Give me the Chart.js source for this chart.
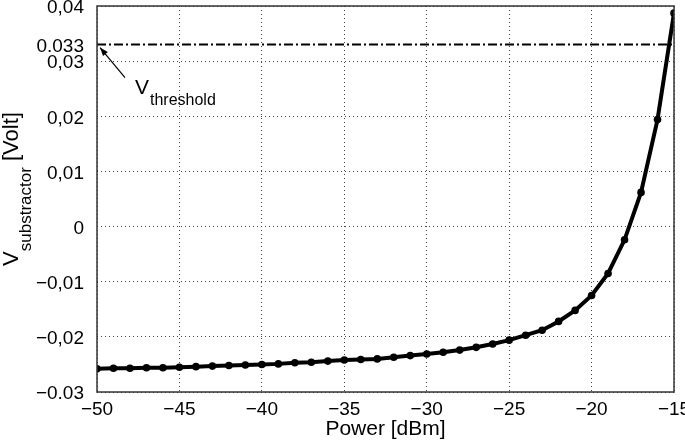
<!DOCTYPE html>
<html>
<head>
<meta charset="utf-8">
<script src="https://cdn.jsdelivr.net/npm/chart.js@4/dist/chart.umd.min.js"></script>
<style>
  html, body { margin: 0; padding: 0; background: #fff; }
</style>
</head>
<body>
<canvas id="chart" width="685" height="442"></canvas>
<script>
// Messwerte: Eingangsleistung [dBm] und Spannung am Subtrahierer [Volt]
const powerDbm = [-50, -49, -48, -47, -46, -45, -44, -43, -42, -41, -40, -39,
  -38, -37, -36, -35, -34, -33, -32, -31, -30, -29, -28, -27, -26, -25, -24,
  -23, -22, -21, -20, -19, -18, -17, -16, -15];
const vSub = [-0.0258, -0.0257, -0.0257, -0.0256, -0.0256, -0.0255, -0.0254,
  -0.0253, -0.0252, -0.0251, -0.0250, -0.0249, -0.0247, -0.0246, -0.0244,
  -0.0242, -0.0241, -0.0240, -0.0237, -0.0234, -0.0231, -0.0228, -0.0224,
  -0.0219, -0.0213, -0.0206, -0.0197, -0.0188, -0.0172, -0.0152, -0.0125,
  -0.0085, -0.0024, 0.0062, 0.0194, 0.0387];
const vThreshold = 0.033;

// Achsenbeschriftungen
const xTicks = [-50, -45, -40, -35, -30, -25, -20, -15];
const yTickValues = [-0.03, -0.02, -0.01, 0, 0.01, 0.02, 0.03, 0.04, 0.033];
const yTickLabels = ['−0.03', '−0,02', '−0,01', '0', '0,01', '0,02', '0,03', '0,04', '0.033'];

const FONT = '"Liberation Sans", Arial, Helvetica, sans-serif';
Chart.defaults.font.family = FONT;
Chart.defaults.color = '#000';

// Rahmen um den Plotbereich
const framePlugin = {
  id: 'frame',
  afterDatasetsDraw(chart) {
    const a = chart.chartArea, ctx = chart.ctx;
    ctx.save();
    ctx.strokeStyle = '#333';
    ctx.lineWidth = 1.5;
    ctx.strokeRect(a.left, a.top, a.right - a.left, a.bottom - a.top);
    ctx.restore();
  }
};

// Y-Achsentitel mit Index und Pfeil-Beschriftung V_threshold
const textPlugin = {
  id: 'texts',
  afterDraw(chart) {
    const ctx = chart.ctx, a = chart.chartArea;
    const xs = chart.scales.x, ys = chart.scales.y;

    // Y-Titel (gedreht)
    ctx.save();
    const big = '22px ' + FONT, small = '17px ' + FONT;
    ctx.font = big;
    const wV = ctx.measureText('V').width;
    const wRest = ctx.measureText(' [Volt]').width;
    ctx.font = small;
    const wSub = ctx.measureText('substractor').width;
    const total = wV + wSub + wRest;
    ctx.translate(18, (a.top + a.bottom) / 2 - 10);
    ctx.rotate(-Math.PI / 2);
    ctx.textBaseline = 'alphabetic';
    ctx.textAlign = 'left';
    let u = -total / 2;
    ctx.font = big;
    ctx.fillText('V', u, 0);
    u += wV;
    ctx.font = small;
    ctx.fillText('substractor', u, 13);
    u += wSub;
    ctx.font = big;
    ctx.fillText(' [Volt]', u, 0);
    ctx.restore();

    // Pfeil auf die Schwellwertlinie
    const tipX = xs.getPixelForValue(-50) + 3;
    const tipY = ys.getPixelForValue(vThreshold) + 3;
    const tailX = tipX + 25, tailY = tipY + 30;
    ctx.save();
    ctx.strokeStyle = '#000';
    ctx.fillStyle = '#000';
    ctx.lineWidth = 1.2;
    ctx.beginPath();
    ctx.moveTo(tailX, tailY);
    ctx.lineTo(tipX, tipY);
    ctx.stroke();
    const ang = Math.atan2(tipY - tailY, tipX - tailX);
    ctx.beginPath();
    ctx.moveTo(tipX, tipY);
    ctx.lineTo(tipX - 9 * Math.cos(ang - 0.35), tipY - 9 * Math.sin(ang - 0.35));
    ctx.lineTo(tipX - 9 * Math.cos(ang + 0.35), tipY - 9 * Math.sin(ang + 0.35));
    ctx.closePath();
    ctx.fill();

    // Beschriftung V_threshold
    ctx.font = '21px ' + FONT;
    ctx.textAlign = 'left';
    ctx.textBaseline = 'alphabetic';
    const lx = tipX + 35, ly = tipY + 46;
    ctx.fillText('V', lx, ly);
    const w = ctx.measureText('V').width;
    ctx.font = '16px ' + FONT;
    ctx.fillText('threshold', lx + w + 1, ly + 11);
    ctx.restore();
  }
};

const ctx = document.getElementById('chart').getContext('2d');

new Chart(ctx, {
  type: 'line',
  data: {
    datasets: [
      {
        label: 'V_substractor',
        data: powerDbm.map((p, i) => ({x: p, y: vSub[i]})),
        borderColor: '#000',
        backgroundColor: '#000',
        borderWidth: 4,
        pointRadius: 3.8,
        pointBackgroundColor: '#000',
        pointBorderWidth: 0,
        tension: 0
      },
      {
        label: 'V_threshold',
        data: [{x: powerDbm[0], y: vThreshold}, {x: powerDbm[powerDbm.length - 1], y: vThreshold}],
        borderColor: '#000',
        borderWidth: 2,
        borderDash: [9, 3, 2, 3],
        pointRadius: 0,
        tension: 0
      }
    ]
  },
  options: {
    responsive: false,
    animation: false,
    layout: {padding: {top: 6, right: 11, left: 0, bottom: 0}},
    plugins: {
      legend: {display: false},
      tooltip: {enabled: false}
    },
    scales: {
      x: {
        type: 'linear',
        min: -50,
        max: -15,
        afterBuildTicks: s => { s.ticks = xTicks.map(v => ({value: v})); },
        afterFit: s => {
          s.height = 50;
          s.paddingLeft = 0; s.paddingRight = 0;
        },
        grid: {color: '#444', lineWidth: 1, drawTicks: false},
        border: {display: false, dash: [1, 3]},
        ticks: {
          font: {size: 19},
          padding: 6,
          maxRotation: 0,
          autoSkip: false,
          callback: v => String(v).replace('-', '−')
        },
        title: {
          display: true,
          text: 'Power [dBm]',
          font: {size: 21},
          padding: {top: 0, bottom: 0}
        }
      },
      y: {
        min: -0.03,
        max: 0.04,
        afterBuildTicks: s => { s.ticks = yTickValues.map(v => ({value: v})); },
        afterFit: s => {
          s.width = 97;
          s.paddingTop = 0; s.paddingBottom = 0;
        },
        grid: {
          color: c => (c.tick && c.tick.value === vThreshold) ? 'rgba(0,0,0,0)' : '#444',
          lineWidth: 1,
          drawTicks: false
        },
        border: {display: false, dash: [1, 3]},
        ticks: {
          font: {size: 19},
          padding: 13,
          labelOffset: 2,
          autoSkip: false,
          callback: v => {
            const i = yTickValues.indexOf(v);
            return i >= 0 ? yTickLabels[i] : '';
          }
        }
      }
    }
  },
  plugins: [framePlugin, textPlugin]
});
</script>
</body>
</html>
